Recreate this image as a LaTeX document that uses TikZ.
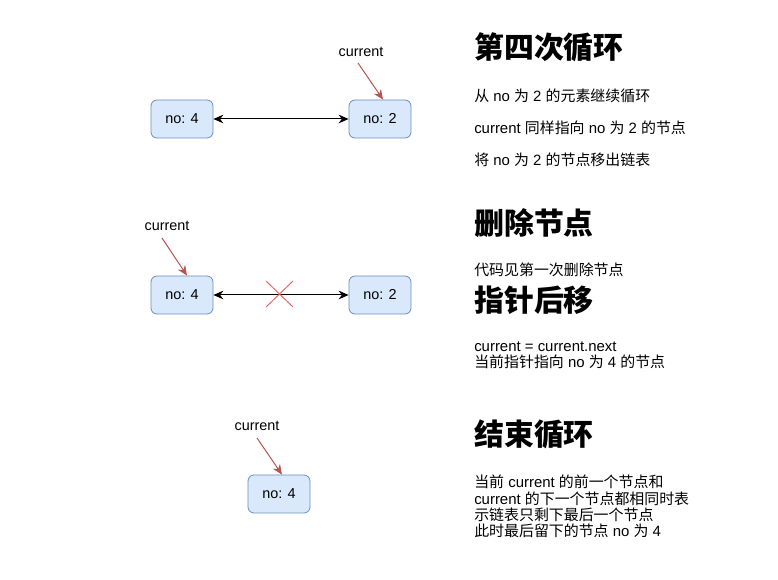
\documentclass[tikz,border=0pt]{standalone}
\usepackage{fontspec}
\setmainfont{Liberation Sans}
\newfontfamily\cjk{Noto Sans CJK SC}
\newcommand{\zhtxt}[1]{{\cjk #1}}
\usetikzlibrary{arrows.meta}
\definecolor{boxfill}{HTML}{DAE8FC}
\definecolor{boxline}{HTML}{6C8EBF}
\definecolor{ptrred}{HTML}{B85450}
\definecolor{crossred}{HTML}{EA6B66}
\tikzset{
  listnode/.style={draw=boxline, fill=boxfill, rounded corners=4.5pt, minimum width=46.5pt, minimum height=28.5pt, inner sep=0pt, font=\fontsize{10.8pt}{12pt}\selectfont, line width=0.6pt},
  curlabel/.style={anchor=base, inner sep=0pt, font=\fontsize{10.8pt}{12pt}\selectfont},
  ptrarrow/.style={draw=ptrred, line width=0.75pt, -{Stealth[length=7.5pt,width=6.5pt]}},
  linkarrow/.style={draw=black, line width=0.75pt, {Stealth[length=7.5pt,width=6.5pt]}-{Stealth[length=7.5pt,width=6.5pt]}},
  heading/.style={anchor=base west, inner sep=0pt, font=\fontsize{22.4pt}{24pt}\selectfont\cjk\bfseries},
  bodytext/.style={anchor=base west, inner sep=0pt, align=left, font=\fontsize{11.2pt}{12.3pt}\selectfont},
  crossline/.style={draw=crossred, line width=0.75pt}
}
\begin{document}
\begin{tikzpicture}[x=0.75pt,y=-0.75pt]
\useasboundingbox (0,0) rectangle (778,580);
% row 1
\node[listnode] (a4) at (182,119) {no: 4};
\node[listnode] (a2) at (380,119) {no: 2};
\draw[linkarrow] (a4) -- (a2);
\node[curlabel] (c1) at (361,57) {current};
\coordinate (c1s) at (358,63);
\draw[ptrarrow] (c1s) -- ([xshift=2.25pt]a2.north);
% row 2
\node[listnode] (b4) at (182,295) {no: 4};
\node[listnode] (b2) at (380,295) {no: 2};
\draw[linkarrow] (b4) -- (b2);
\coordinate (x1) at (266,281);
\coordinate (x2) at (293,307);
\coordinate (x3) at (266,307);
\coordinate (x4) at (293,281);
\draw[crossline] (x1) -- (x2);
\draw[crossline] (x3) -- (x4);
\node[curlabel] (c2) at (167,231) {current};
\coordinate (c2s) at (162,238);
\draw[ptrarrow] (c2s) -- ([xshift=3.75pt]b4.north);
% row 3
\node[listnode] (d4) at (279,494) {no: 4};
\node[curlabel] (c3) at (257,431) {current};
\coordinate (c3s) at (257,438);
\draw[ptrarrow] (c3s) -- ([xshift=2.25pt]d4.north);
% texts
\node[heading] (h1) at (474,59) {第四次循环};
\node[bodytext] (t1) at (474,102) {\zhtxt{从} no \zhtxt{为} 2 \zhtxt{的元素继续循环}};
\node[bodytext] (t2) at (474,134) {current \zhtxt{同样指向} no \zhtxt{为} 2 \zhtxt{的节点}};
\node[bodytext] (t3) at (474,166) {\zhtxt{将} no \zhtxt{为} 2 \zhtxt{的节点移出链表}};
\node[heading] (h2) at (474,235) {删除节点};
\node[bodytext] (t4) at (474,276) {\zhtxt{代码见第一次删除节点}};
\node[heading] (h3) at (474,312) {指针后移};
\node[bodytext] (t5) at (474,368) {current = current.next\\\zhtxt{当前指针指向} no \zhtxt{为} 4 \zhtxt{的节点}};
\node[heading] (h4) at (474,446) {结束循环};
\node[bodytext] (t6) at (474,537) {\zhtxt{当前} current \zhtxt{的前一个节点和}\\current \zhtxt{的下一个节点都相同时表}\\\zhtxt{示链表只剩下最后一个节点}\\\zhtxt{此时最后留下的节点} no \zhtxt{为} 4};
\end{tikzpicture}
\end{document}
